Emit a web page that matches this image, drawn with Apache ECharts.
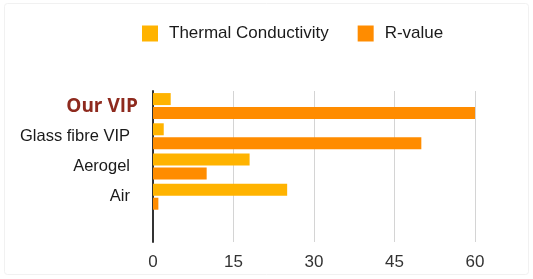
<!DOCTYPE html>
<html><head><meta charset="utf-8">
<script src="https://cdn.jsdelivr.net/npm/echarts@6/dist/echarts.min.js"></script>
<style>html,body{margin:0;padding:0;background:#fff}#c{width:533px;height:279px}</style>
</head><body><div id="c"></div>
<script>
var categories = ["Our VIP", "Glass fibre VIP", "Aerogel", "Air", ""];
var thermalConductivity = [3.3, 2, 18, 25, null];
var rValue = [60, 50, 10, 1, null];
var xTicks = [0, 15, 30, 45, 60];

var chart = echarts.init(document.getElementById('c'));
chart.setOption({
  animation: false,
  backgroundColor: '#fff',
  graphic: [{
    type: 'rect', z: -10, silent: true,
    shape: { x: 4.5, y: 3.5, width: 524, height: 271, r: 3 },
    style: { fill: 'none', stroke: '#f1f1f1', lineWidth: 1 }
  }],
  legend: {
    top: 20, left: 137,
    icon: 'rect',
    itemWidth: 16, itemHeight: 16, itemGap: 29,
    textStyle: { fontFamily: 'Liberation Sans, Arial', fontSize: 17, color: '#1a1a1a', padding: [0, 0, 0, 6] },
    data: ['Thermal Conductivity', 'R-value']
  },
  grid: { left: 153, right: 58, top: 91, bottom: 37, containLabel: false },
  xAxis: {
    type: 'value', min: 0, max: 60, interval: 15,
    axisLine: { show: false }, axisTick: { show: false },
    splitLine: { lineStyle: { color: '#d4d4d4', width: 1 } },
    axisLabel: { fontFamily: 'Liberation Sans, Arial', fontSize: 17, color: '#333', margin: 12 }
  },
  yAxis: {
    type: 'category', inverse: true, data: categories,
    axisLine: { show: true, lineStyle: { color: '#333', width: 2 } },
    axisTick: { show: false },
    axisLabel: {
      margin: 15,
      fontFamily: 'Liberation Sans, Arial', fontSize: 16.5, color: '#1a1a1a',
      formatter: function (v) { return v === 'Our VIP' ? '{hl|' + v + '}' : '{n|' + v + '}'; },
      rich: {
        hl: { fontFamily: 'Open Sans, Liberation Sans', fontSize: 19, fontWeight: 'bold', color: '#8e2a1e' },
        n: { fontFamily: 'Liberation Sans, Arial', fontSize: 16.5, color: '#1a1a1a', padding: [0, 8, 0, 0] }
      }
    }
  },
  series: [
    { name: 'Thermal Conductivity', type: 'bar', data: thermalConductivity, barWidth: 12, barGap: '17%',
      itemStyle: { color: '#FFB300' } },
    { name: 'R-value', type: 'bar', data: rValue, barWidth: 12, barGap: '17%',
      itemStyle: { color: '#FF8C00' } }
  ]
});
</script></body></html>
